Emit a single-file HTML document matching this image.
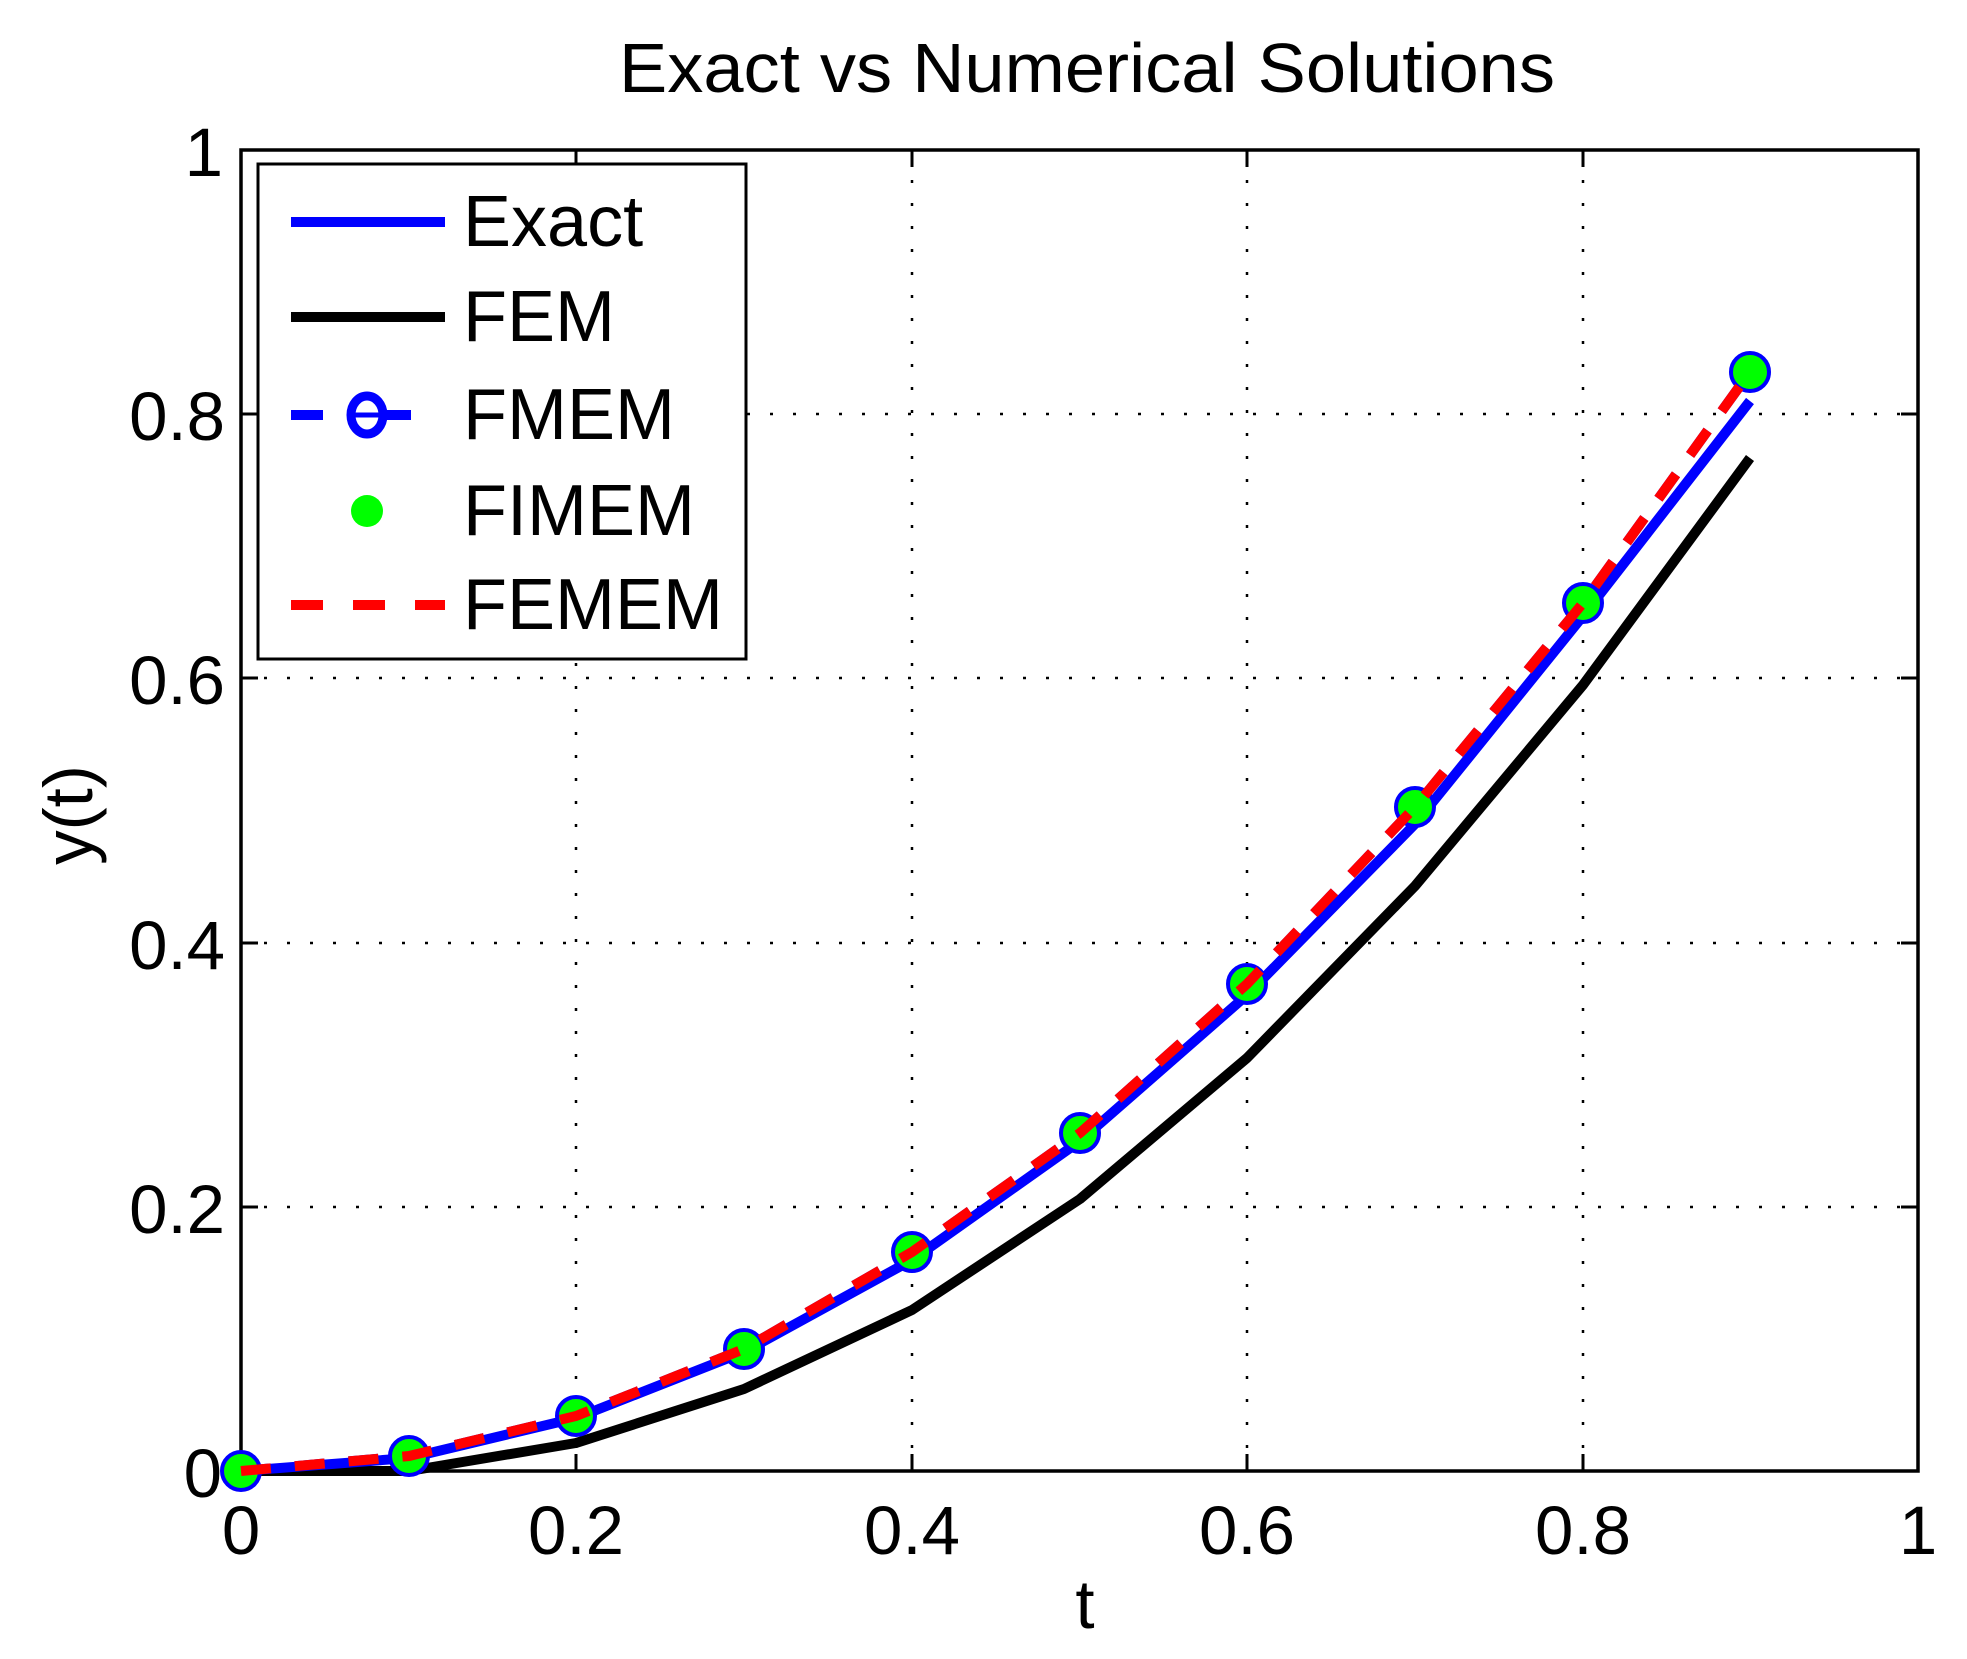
<!DOCTYPE html>
<html><head><meta charset="utf-8"><style>html,body{margin:0;padding:0;background:#fff}svg{display:block}</style></head>
<body>
<svg width="1967" height="1659" viewBox="0 0 1967 1659" xmlns="http://www.w3.org/2000/svg" font-family="Liberation Sans, Arial, sans-serif">
<rect width="1967" height="1659" fill="#fff"/>
<g stroke="#000" stroke-width="2.5" stroke-dasharray="3 20">
<line x1="576" y1="1471" x2="576" y2="150"/>
<line x1="912" y1="1471" x2="912" y2="150"/>
<line x1="1247" y1="1471" x2="1247" y2="150"/>
<line x1="1583" y1="1471" x2="1583" y2="150"/>
<line x1="241" y1="1207" x2="1918" y2="1207"/>
<line x1="241" y1="943" x2="1918" y2="943"/>
<line x1="241" y1="678" x2="1918" y2="678"/>
<line x1="241" y1="414" x2="1918" y2="414"/>
</g>
<g stroke="#000" stroke-width="3">
<line x1="576" y1="1471" x2="576" y2="1454"/><line x1="912" y1="1471" x2="912" y2="1454"/><line x1="1247" y1="1471" x2="1247" y2="1454"/><line x1="1583" y1="1471" x2="1583" y2="1454"/>
<line x1="576" y1="150" x2="576" y2="167"/><line x1="912" y1="150" x2="912" y2="167"/><line x1="1247" y1="150" x2="1247" y2="167"/><line x1="1583" y1="150" x2="1583" y2="167"/>
<line x1="241" y1="1207" x2="258" y2="1207"/><line x1="241" y1="943" x2="258" y2="943"/><line x1="241" y1="678" x2="258" y2="678"/><line x1="241" y1="414" x2="258" y2="414"/>
<line x1="1918" y1="1207" x2="1901" y2="1207"/><line x1="1918" y1="943" x2="1901" y2="943"/><line x1="1918" y1="678" x2="1901" y2="678"/><line x1="1918" y1="414" x2="1901" y2="414"/>
</g>
<rect x="241" y="150" width="1677" height="1321" fill="none" stroke="#000" stroke-width="3.5"/>
<g fill="none" stroke-width="10" stroke-linejoin="round">
<polyline stroke="#000" points="241,1471 409,1471 576,1443 744,1389 912,1310 1080,1199 1247,1058 1415,886 1583,685 1750,458"/>
<polyline stroke="#0000ff" points="241,1471 409,1458 576,1418 744,1352 912,1260 1080,1141 1247,995 1415,824 1583,616 1750,401"/>
<polyline stroke="#0000ff" stroke-dasharray="30 24" points="241,1471 409,1456 576,1416 744,1349 912,1252 1080,1133 1247,984 1415,807 1583,603 1750,372"/>
</g>
<g fill="#00ff00" stroke="#0000ff" stroke-width="4">
<circle cx="241" cy="1471" r="19"/><circle cx="409" cy="1456" r="19"/><circle cx="576" cy="1416" r="19"/><circle cx="744" cy="1349" r="19"/><circle cx="912" cy="1252" r="19"/><circle cx="1080" cy="1133" r="19"/><circle cx="1247" cy="984" r="19"/><circle cx="1415" cy="807" r="19"/><circle cx="1583" cy="603" r="19"/><circle cx="1750" cy="372" r="19"/>
</g>
<polyline fill="none" stroke="#ff0000" stroke-width="10" stroke-dasharray="30 24" points="241,1471 409,1456 576,1416 744,1349 912,1252 1080,1133 1247,984 1415,807 1583,603 1750,372"/>
<rect x="258" y="164" width="488" height="495" fill="#fff" stroke="#000" stroke-width="3"/>
<line x1="291" y1="222" x2="445" y2="222" stroke="#0000ff" stroke-width="10"/>
<line x1="291" y1="317" x2="445" y2="317" stroke="#000" stroke-width="10"/>
<line x1="291" y1="415" x2="445" y2="415" stroke="#0000ff" stroke-width="10" stroke-dasharray="32 56"/>
<ellipse cx="367" cy="415" rx="16" ry="19" fill="none" stroke="#0000ff" stroke-width="9"/>
<line x1="355" y1="415" x2="379" y2="415" stroke="#0000ff" stroke-width="5"/>
<circle cx="367" cy="511" r="16" fill="#00ff00"/>
<line x1="291" y1="605" x2="445" y2="605" stroke="#ff0000" stroke-width="10" stroke-dasharray="32 30"/>
<g font-size="72" fill="#000">
<text x="463" y="246">Exact</text>
<text x="463" y="341">FEM</text>
<text x="463" y="439">FMEM</text>
<text x="463" y="535">FIMEM</text>
<text x="463" y="629">FEMEM</text>
</g>
<g font-size="69" fill="#000" text-anchor="middle">
<text x="241" y="1554">0</text><text x="576" y="1554">0.2</text><text x="912" y="1554">0.4</text><text x="1247" y="1554">0.6</text><text x="1583" y="1554">0.8</text><text x="1918" y="1554">1</text>
</g>
<g font-size="69" fill="#000" text-anchor="end">
<text x="222" y="1497">0</text><text x="225" y="1233">0.2</text><text x="225" y="969">0.4</text><text x="225" y="704">0.6</text><text x="225" y="440">0.8</text><text x="223" y="176">1</text>
</g>
<text x="1085" y="1628" font-size="69" text-anchor="middle">t</text>
<text transform="translate(92,815) rotate(-90)" font-size="69" text-anchor="middle">y(t)</text>
<text x="1087" y="92" font-size="70" text-anchor="middle" textLength="936" lengthAdjust="spacingAndGlyphs">Exact vs Numerical Solutions</text>
</svg>
</body></html>
